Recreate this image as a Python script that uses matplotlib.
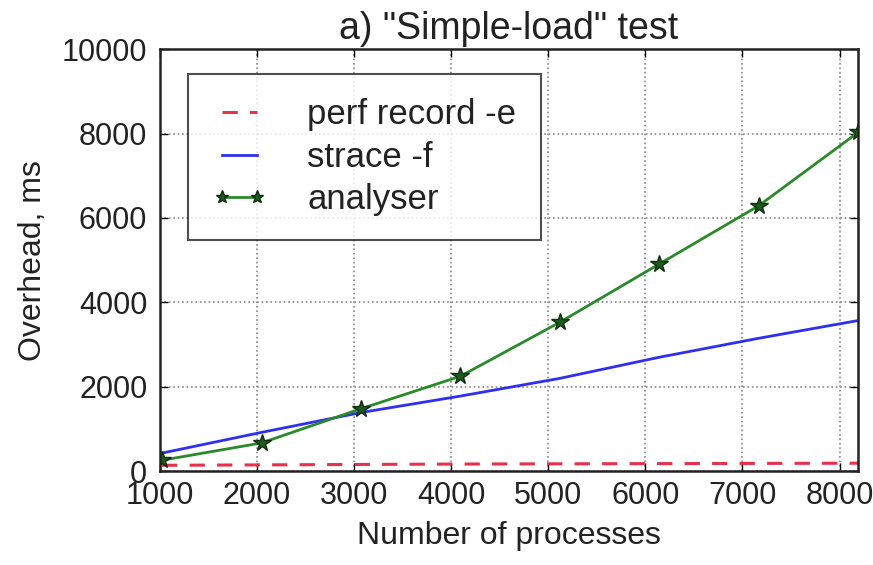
import numpy as np
import matplotlib.pyplot as plt

plt.rcParams['font.family'] = ['Liberation Sans', 'DejaVu Sans']

# number of processes
procs = [1024, 2048, 3072, 4096, 5120, 6144, 7168, 8192]

# overhead in ms
perf_record = [140, 150, 160, 170, 175, 180, 185, 190]
strace_f = [430, 920, 1390, 1780, 2200, 2700, 3150, 3570]
analyser = [260, 670, 1480, 2250, 3530, 4910, 6290, 8030]

xticks = [1000, 2000, 3000, 4000, 5000, 6000, 7000, 8000]
yticks = [0, 2000, 4000, 6000, 8000, 10000]

fig = plt.figure(figsize=(8.73, 5.65), dpi=100)
ax = fig.add_axes([0.183, 0.166, 0.800, 0.747])

ax.plot(procs, perf_record, '--', color='#e8304a', linewidth=2.2,
        dashes=(5, 4), label='perf record -e')
ax.plot(procs, strace_f, '-', color='#2f2ff0', linewidth=2.0, label='strace -f')
ax.plot(procs, analyser, '-', color='#2a8a2a', linewidth=2.0, marker='*',
        markersize=13, markerfacecolor='#1d5a1d', markeredgecolor='#0e2e0e',
        label='analyser')

ax.set_xlim(1000, 8192)
ax.set_ylim(0, 10000)
ax.set_xticks(xticks)
ax.set_yticks(yticks)
ax.tick_params(direction='in', labelsize=22, length=6, width=1,
               top=True, right=True)
ax.tick_params(axis='x', pad=7)
ax.tick_params(axis='y', pad=9)
for lbl in ax.get_xticklabels() + ax.get_yticklabels():
    lbl.set_color('#222222')

ax.grid(True, linestyle=':', color='#888888', linewidth=1.2)
for s in ax.spines.values():
    s.set_linewidth(1.8)
    s.set_color('#222222')

ax.set_xlabel('Number of processes', fontsize=23, color='#222222', labelpad=7)
ax.set_ylabel('Overhead, ms', fontsize=23, color='#222222', labelpad=10)
ax.set_title('a) "Simple-load" test', fontsize=27, color='#222222', pad=7)

leg = ax.legend(loc='upper left', fontsize=25, frameon=True, fancybox=False,
                borderpad=0.7, handlelength=1.6, handletextpad=1.15,
                labelspacing=0.27, numpoints=2, markerscale=0.75,
                borderaxespad=0, bbox_to_anchor=(0.040, 0.941))
leg.get_frame().set_edgecolor('#222222')
leg.get_frame().set_linewidth(1.5)
for t in leg.get_texts():
    t.set_color('#222222')

plt.savefig('out.png', dpi=100)
